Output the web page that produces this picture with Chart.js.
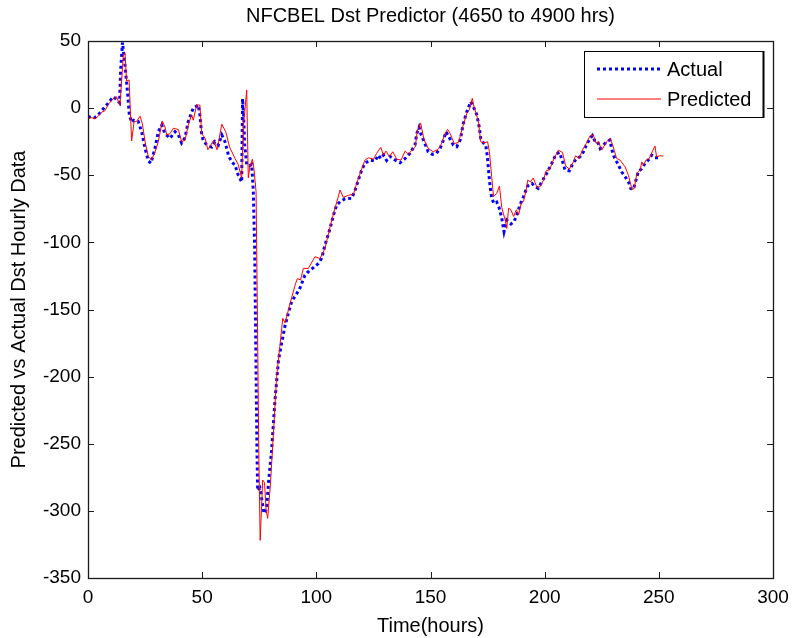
<!DOCTYPE html>
<html>
<head>
<meta charset="utf-8">
<script src="https://cdn.jsdelivr.net/npm/chart.js@4"></script>
<style>
  html, body { margin: 0; padding: 0; background: #fff; }
  #wrap { width: 792px; height: 638px; }
</style>
</head>
<body>
<div id="wrap"><canvas id="c" width="792" height="638"></canvas></div>
<script>
const chartTitle = 'NFCBEL Dst Predictor (4650 to 4900 hrs)';
const xTitle = 'Time(hours)';
const yTitle = 'Predicted vs Actual Dst Hourly Data';
const seriesNames = ['Actual', 'Predicted'];
const xTicks = [0, 50, 100, 150, 200, 250, 300];
const yTicks = [-350, -300, -250, -200, -150, -100, -50, 0, 50];

const actualHours = [0,1.5,3,4.5,6,7.4,9,11,12.5,13.8,14.3,15.1,16.2,17.4,18.1,19.1,20,22,23.5,25,26.4,27.6,29.3,30.8,32.3,33.7,35.9,38.1,39.6,41,42.5,43.9,46.1,48.3,49,49.8,50.5,52,54.2,55.6,57.1,58.6,60,61.5,62.9,64.4,65.8,67.3,67.7,68.2,68.6,69.5,70.7,71.7,72.4,73,73.5,74,74.3,75.3,76,77.1,78.2,79,80.4,81.9,83.4,84.8,86.3,87.7,89.2,90.7,92.6,95,97.2,98.6,100.9,102.3,103.8,106,107.5,108.9,110.4,112.6,115.5,117,118.4,119.9,121.3,123.5,125.7,127.2,128.2,129.4,130.8,132.3,134.5,136.7,138.9,141,143.2,144,145,145.7,147.2,149,150.8,152.6,154.2,155.4,156.8,158.4,160,161.5,163,164.4,165.9,167.6,168.8,170.3,171.3,172,173.2,174.2,174.9,175.4,176.1,176.8,177.8,179,180,181.2,182.2,183.4,185.2,186.6,188,189.2,190.7,192.5,194.4,195.8,197.2,198.7,200.9,203.1,205,206.5,207.9,208.9,210.8,212.3,214,215.5,217,218.1,219.6,220.9,222.1,223.2,224.3,225.7,227.2,228.6,229.4,230.4,232.3,233.7,235.2,236.7,237.7,238.9,240,241,242.5,244,245.4,246.9,248.3,250.1];
const actualValues = [-7,-6,-7,-5,-2,1,4,8.5,6.5,4,28,49,32,10,-5,-10.6,-9,-10,-17.6,-30,-39.4,-41,-30,-17.6,-12.6,-19,-22.5,-17.6,-20,-26,-22,-10,0,2.3,-5,-20,-24,-27.5,-29,-25,-27.5,-20,-25,-35,-40,-42.4,-50,-55,7,-7,-27,-42,-43,-42,-62,-105,-180,-255,-285,-283,-290,-302,-299,-280,-255,-217.5,-188,-175,-162,-153,-144,-140,-135,-124.4,-120.6,-119,-115.7,-112,-102,-89.6,-79.7,-72.2,-69.7,-67.5,-67.2,-61,-53.6,-46,-41,-38.7,-39.5,-35,-37.5,-35,-39,-36,-38.7,-40.7,-37.5,-33.7,-27.5,-18.8,-14.3,-18.8,-25,-32.5,-34.4,-33.7,-30,-25,-17.6,-22.5,-27.5,-28.7,-23.7,-11.3,-2.7,4.8,1,-5,-13.7,-22.5,-26,-27.5,-36,-46,-58.5,-67,-71,-70,-74,-82,-92,-83.4,-86.3,-84.6,-78.4,-72,-66,-58,-56,-58.5,-59.8,-55,-48.6,-41.2,-34.2,-33,-40,-46,-46.7,-41.2,-37.5,-36.2,-32.5,-28.2,-23.3,-20.5,-25,-25,-30,-27.5,-25,-23.7,-31,-36.2,-42.4,-47.4,-51,-55,-59.8,-60.4,-53.6,-47.4,-45,-41.2,-38.7,-35,-37,-37];

const predictedHours = [0,1.5,3,4.5,6,7.4,9,11,12.5,14,15.5,16.2,16.9,18,19.1,20.2,21.2,22.8,23.8,25,26.4,27.8,29.3,30.8,32.5,33.7,34.5,35.9,37.4,39.6,41,42.5,43.9,45.4,46.1,47.6,49,49.8,51.3,52.5,55,56.5,58.6,60.3,62,64.4,65.8,67.3,68,69.5,70.2,70.9,72,72.6,73.6,74.2,74.8,75.4,76.5,77.3,78,78.7,79.9,81.2,82.6,84,85.3,86.3,88.5,90.7,91.7,93.1,94.3,96.5,99.4,101.6,103.8,106,108.2,110.4,111.8,114,116.3,117.7,119.2,121.3,122.8,125,126.4,128.2,129.4,130.5,132,133.5,135.2,137.1,138.9,140.4,141.8,143.3,144.3,145.7,147.2,149,151.2,153.4,154.9,156.4,157.5,158.6,160.4,162.3,164.1,165.9,167.1,168.3,169.2,170,171,172,173.5,175,175.8,176.8,177.6,179,180.2,181.2,182.7,183.4,184.2,185.2,186.4,187.6,188.6,189.7,190.7,191.9,192.6,193.7,195,196.6,198,199.5,200.6,202.1,203.8,206,207.8,209.2,210.8,212.6,213.5,215.1,216.5,218.3,219.8,221.3,222.5,223.5,225,227.2,228.6,229.8,231.5,233,235.2,236.7,238.2,239.2,240.4,241.9,242.5,243.3,244.4,245.8,247.3,248.3,249,250.5,252];
const predictedValues = [-8,-7,-8,-6,-3,-2,3,7,8.5,2,40,41,20,21,-24.5,-10,-10,-6,-11.6,-25,-36,-38.5,-33,-25,-9.6,-14,-20,-19,-15,-16,-25,-24,-12.6,-5,-9,2.3,2.3,-19,-22.5,-31,-24,-31,-12,-17.5,-29,-37.5,-42,-52,-15,13.5,-52,-44,-38,-44,-62,-155,-255,-322,-277,-279,-299,-305.6,-280,-242.4,-200,-177.6,-156.6,-160,-145.5,-131.8,-127,-128,-119.4,-119.4,-110.7,-112,-104.5,-88.4,-74.5,-61,-66.5,-65,-64,-56,-48.6,-38.7,-37,-38,-33.7,-29.2,-35,-32,-36,-32.5,-38,-38.7,-32,-34.4,-31.3,-29,-16.3,-11.3,-23.7,-30,-32.5,-30.7,-26.2,-18.8,-15.8,-18.8,-26.5,-25.5,-13.8,-4,-1,7.3,0,-4,-10,-25,-26,-25,-32.5,-51,-66,-63.5,-58,-74,-83.4,-89.6,-74.5,-75.7,-80.7,-75.7,-79.5,-71,-69.6,-61,-53.6,-55,-52,-59,-58.5,-53.6,-46.7,-46,-38.7,-31.3,-33,-43,-45.4,-40,-35.5,-37.5,-31.2,-26.2,-20.8,-20,-26.2,-25,-31.2,-25,-22.5,-27.5,-37.5,-38.7,-43.7,-50,-60.4,-60,-48.6,-46,-40,-42.4,-38.7,-37.5,-31.8,-28.2,-36.2,-35.5,-35.7];

const FONT = "'Liberation Sans', Arial, Helvetica, sans-serif";

function pairs(xs, ys) { return xs.map((x, i) => ({ x: x, y: ys[i] })); }

const boxPlugin = {
  id: 'matlabBox',
  afterDatasetsDraw(chart) {
    const { ctx, chartArea: a, scales } = chart;
    const tl = 6;
    ctx.save();
    ctx.strokeStyle = '#1a1a1a';
    ctx.lineWidth = 1;
    ctx.beginPath();
    scales.x.ticks.forEach(t => {
      const px = Math.round(scales.x.getPixelForValue(t.value)) + 0.5;
      ctx.moveTo(px, a.bottom); ctx.lineTo(px, a.bottom - tl);
      ctx.moveTo(px, a.top); ctx.lineTo(px, a.top + tl);
    });
    scales.y.ticks.forEach(t => {
      const py = Math.round(scales.y.getPixelForValue(t.value)) + 0.5;
      ctx.moveTo(a.left, py); ctx.lineTo(a.left + tl, py);
      ctx.moveTo(a.right, py); ctx.lineTo(a.right - tl, py);
    });
    ctx.stroke();
    ctx.lineWidth = 1.3;
    ctx.strokeRect(Math.round(a.left) + 0.5, Math.round(a.top) + 0.5,
                   Math.round(a.right - a.left), Math.round(a.bottom - a.top));
    ctx.restore();
  }
};

const legendPlugin = {
  id: 'insideLegend',
  afterDraw(chart) {
    const { ctx, chartArea: a } = chart;
    const w = 179, h = 66;
    const x0 = a.right - 10 - w, y0 = a.top + 10;
    ctx.save();
    ctx.fillStyle = '#fff';
    ctx.fillRect(x0, y0, w, h);
    ctx.strokeStyle = '#000';
    ctx.lineWidth = 1;
    ctx.strokeRect(Math.round(x0) + 0.5, Math.round(y0) + 0.5, w, h);
    ctx.lineWidth = 2;
    ctx.beginPath();
    ctx.moveTo(Math.round(x0 + w) + 0.5, y0); ctx.lineTo(Math.round(x0 + w) + 0.5, y0 + h + 1);
    ctx.stroke();
    chart.data.datasets.forEach((ds, i) => {
      const yy = y0 + 18 + i * 30;
      ctx.strokeStyle = ds.borderColor;
      ctx.lineWidth = ds.borderWidth;
      ctx.setLineDash(ds.borderDash || []);
      ctx.beginPath();
      ctx.moveTo(x0 + 13, yy); ctx.lineTo(x0 + 77, yy);
      ctx.stroke();
      ctx.setLineDash([]);
      ctx.fillStyle = '#000';
      ctx.font = '20px ' + FONT;
      ctx.textBaseline = 'middle';
      ctx.textAlign = 'left';
      ctx.fillText(ds.label, x0 + 83, yy + 1);
    });
    ctx.restore();
  }
};

new Chart(document.getElementById('c'), {
  type: 'line',
  data: {
    datasets: [
      {
        label: seriesNames[0],
        data: pairs(actualHours, actualValues),
        borderColor: '#0000ff',
        borderWidth: 3,
        borderDash: [3, 3],
        pointRadius: 0,
        tension: 0,
        fill: false,
        order: 1
      },
      {
        label: seriesNames[1],
        data: pairs(predictedHours, predictedValues),
        borderColor: '#ff0000',
        borderWidth: 1,
        pointRadius: 0,
        tension: 0,
        fill: false,
        order: 0
      }
    ]
  },
  options: {
    responsive: false,
    animation: false,
    devicePixelRatio: 1,
    layout: { padding: { left: 0, right: 19, top: 0, bottom: 0 } },
    plugins: {
      legend: { display: false },
      tooltip: { enabled: false },
      title: {
        display: true,
        text: chartTitle,
        fullSize: false,
        color: '#000',
        font: { family: FONT, size: 20, weight: 'normal', lineHeight: 1.2 },
        padding: { top: 4, bottom: 13 }
      }
    },
    scales: {
      x: {
        type: 'linear',
        min: 0, max: 300,
        afterBuildTicks: s => { s.ticks = xTicks.map(v => ({ value: v })); },
        afterFit: s => { s.height = 60; s.paddingLeft = 0; s.paddingRight = 0; },
        grid: { display: false, drawTicks: false },
        border: { display: false },
        ticks: { color: '#000', padding: 8, maxRotation: 0, font: { family: FONT, size: 19 } },
        title: { display: true, text: xTitle, color: '#000', padding: { top: 0, bottom: 0 },
                 font: { family: FONT, size: 20, lineHeight: 1.2 } }
      },
      y: {
        type: 'linear',
        min: -350, max: 50,
        afterBuildTicks: s => { s.ticks = yTicks.map(v => ({ value: v })); },
        afterFit: s => { s.width = 88; s.paddingTop = 0; s.paddingBottom = 0; },
        grid: { display: false, drawTicks: false },
        border: { display: false },
        ticks: { color: '#000', padding: 7, font: { family: FONT, size: 19 } },
        title: { display: true, text: yTitle, color: '#000', padding: { top: 7, bottom: 0 },
                 font: { family: FONT, size: 20, lineHeight: 1.2 } }
      }
    }
  },
  plugins: [boxPlugin, legendPlugin]
});
</script>
</body>
</html>
